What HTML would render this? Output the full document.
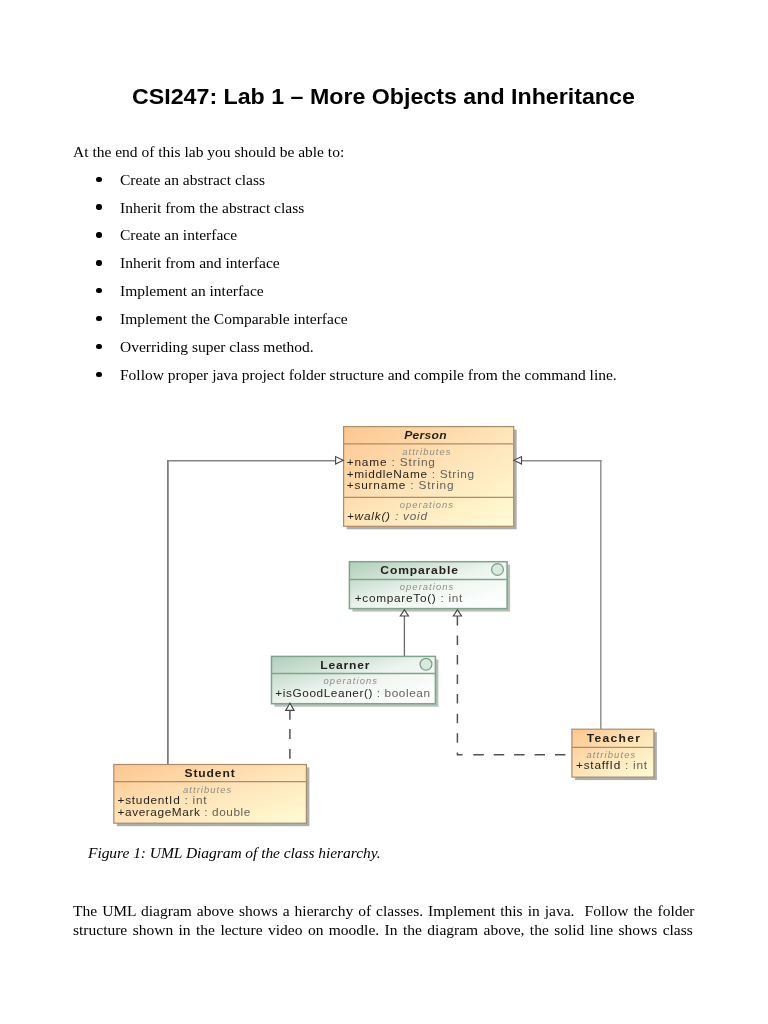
<!DOCTYPE html>
<html><head><meta charset="utf-8">
<style>
html,body{margin:0;padding:0;background:#fff;}
body{width:768px;height:1024px;position:relative;overflow:hidden;font-family:"Liberation Serif",serif;color:#000;}
.t{position:absolute;white-space:nowrap;line-height:1;will-change:transform;}
h1.t{font-family:"Liberation Sans",sans-serif;font-weight:bold;font-size:22px;margin:0;left:132.3px;top:85.5px;transform:scaleX(1.0545);transform-origin:0 0;}
.p{font-size:15.5px;}
.b{font-size:15.5px;left:119.6px;}
.dot{position:absolute;left:96.2px;width:5.4px;height:5.4px;border-radius:50%;background:#000;}
.j{position:absolute;left:73px;width:621.5px;font-size:15.5px;line-height:1;text-align:justify;text-align-last:justify;white-space:nowrap;will-change:transform;}
svg{position:absolute;left:0;top:0;will-change:transform;}
svg text{font-family:"Liberation Sans",sans-serif;font-size:9.2px;}
svg text.h{font-weight:bold;font-size:10.5px;fill:#221f1c;}
svg text.s{font-style:italic;font-size:8.2px;fill:#918d86;}
svg text.a{font-size:10.3px;}
</style></head><body>
<h1 class="t" id="ttl">CSI247: Lab 1 – More Objects and Inheritance</h1>
<div class="t p" id="l0" style="left:73px;top:143.72px;">At the end of this lab you should be able to:</div>
<div class="dot" style="top:176.55px"></div><div class="t b" id="b0" style="top:171.72px;">Create an abstract class</div>
<div class="dot" style="top:204.40px"></div><div class="t b" id="b1" style="top:199.57px;">Inherit from the abstract class</div>
<div class="dot" style="top:232.25px"></div><div class="t b" id="b2" style="top:227.42px;">Create an interface</div>
<div class="dot" style="top:260.15px"></div><div class="t b" id="b3" style="top:255.32px;">Inherit from and interface</div>
<div class="dot" style="top:288.05px"></div><div class="t b" id="b4" style="top:283.22px;">Implement an interface</div>
<div class="dot" style="top:315.85px"></div><div class="t b" id="b5" style="top:311.02px;">Implement the Comparable interface</div>
<div class="dot" style="top:343.75px"></div><div class="t b" id="b6" style="top:338.92px;">Overriding super class method.</div>
<div class="dot" style="top:371.65px"></div><div class="t b" id="b7" style="top:366.82px;">Follow proper java project folder structure and compile from the command line.</div>
<svg width="768" height="1024" viewBox="0 0 768 1024">
<defs>
<linearGradient id="og" x1="0" y1="0" x2="1" y2="1"><stop offset="0" stop-color="#fdc68f"/><stop offset="0.5" stop-color="#fee4b8"/><stop offset="0.9" stop-color="#fff7cf"/><stop offset="1" stop-color="#fffad3"/></linearGradient>
<linearGradient id="gg" x1="0" y1="0" x2="1" y2="1"><stop offset="0" stop-color="#b0cfb9"/><stop offset="0.3" stop-color="#d3e4d8"/><stop offset="0.5" stop-color="#ecf4ee"/><stop offset="0.8" stop-color="#fafdfb"/><stop offset="1" stop-color="#ffffff"/></linearGradient>
</defs>
<g fill="none" stroke-width="1.5">
<path d="M167.9 764.5 V460.0" stroke="#646464"/>
<path d="M167.2 460.75 H335.5" stroke="#858585" stroke-width="1.6"/>
<path d="M600.8 729.2 V460.0" stroke="#8a8a8a" stroke-width="1.4"/>
<path d="M601.5 460.75 H521.5" stroke="#8c8c8c" stroke-width="1.6"/>
<path d="M404.4 656.4 V616.0" stroke="#6a6a6a" stroke-width="1.3"/>
</g>
<g fill="none" stroke="#505256" stroke-width="1.5">
<path d="M289.9 758.75 V748.9 M289.9 739 V729 M289.9 719.7 V710.3"/>
<path d="M457.4 616.0 V625.4 M457.4 635.4 V644.9 M457.4 655.0 V664.5 M457.4 674.6 V684.1 M457.4 694.1 V703.6 M457.4 713.7 V723.2 M457.4 733.3 V742.8 M457.4 752.6 V754.7 H462.6 M473.3 754.7 H483.8 M493.7 754.7 H504.2 M514.1 754.7 H524.6 M534.6 754.7 H545.0 M555.0 754.7 H565.4"/>
</g>
<rect x="346.6" y="429.6" width="170.10000000000002" height="99.69999999999993" fill="#adaeae"/>
<rect x="343.6" y="426.6" width="170.10000000000002" height="99.69999999999993" fill="url(#og)" stroke="#ab8d6c" stroke-width="1.2"/>
<path d="M343.6 443.8 H513.7" stroke="#ab8d6c" stroke-width="1.2" fill="none"/>
<path d="M343.6 497.4 H513.7" stroke="#ab8d6c" stroke-width="1.2" fill="none"/>
<text transform="translate(404.2,438.8) scale(1.15,1)" textLength="36.87" lengthAdjust="spacing" class="h" font-style="italic">Person</text>
<text transform="translate(402.2,454.7) scale(1.15,1)" textLength="42.00" lengthAdjust="spacing" class="s" >attributes</text>
<text transform="translate(346.70,466.00) scale(1.15,1)" textLength="76.70" lengthAdjust="spacing" class="a"><tspan fill="#241f1c">+name</tspan><tspan fill="#65605a"> : String</tspan></text>
<text transform="translate(346.70,477.70) scale(1.15,1)" textLength="110.78" lengthAdjust="spacing" class="a"><tspan fill="#241f1c">+middleName</tspan><tspan fill="#65605a"> : String</tspan></text>
<text transform="translate(346.70,489.10) scale(1.15,1)" textLength="92.96" lengthAdjust="spacing" class="a"><tspan fill="#241f1c">+surname</tspan><tspan fill="#65605a"> : String</tspan></text>
<text transform="translate(399.8,507.8) scale(1.15,1)" textLength="46.35" lengthAdjust="spacing" class="s" >operations</text>
<text transform="translate(346.90,519.90) scale(1.15,1)" textLength="69.74" lengthAdjust="spacing" class="a" font-style="italic"><tspan fill="#241f1c">+walk()</tspan><tspan fill="#65605a"> : void</tspan></text>
<rect x="352.4" y="564.7" width="157.70000000000005" height="46.89999999999998" fill="#b6c0b9"/>
<rect x="349.4" y="561.7" width="157.70000000000005" height="46.89999999999998" fill="url(#gg)" stroke="#7fa38c" stroke-width="1.5"/>
<path d="M349.4 579.4 H507.1" stroke="#7fa38c" stroke-width="1.5" fill="none"/>
<circle cx="497.5" cy="569.5" r="5.9" fill="#d7eadb" stroke="#7d9f8a" stroke-width="1.25"/>
<text transform="translate(380.3,573.9) scale(1.15,1)" textLength="67.48" lengthAdjust="spacing" class="h" >Comparable</text>
<text transform="translate(399.8,590.1) scale(1.15,1)" textLength="46.43" lengthAdjust="spacing" class="s" >operations</text>
<text transform="translate(354.70,601.90) scale(1.15,1)" textLength="93.65" lengthAdjust="spacing" class="a"><tspan fill="#241f1c">+compareTo()</tspan><tspan fill="#65605a"> : int</tspan></text>
<rect x="274.5" y="659.4" width="163.89999999999998" height="47.30000000000007" fill="#b6c0b9"/>
<rect x="271.5" y="656.4" width="163.89999999999998" height="47.30000000000007" fill="url(#gg)" stroke="#7fa38c" stroke-width="1.5"/>
<path d="M271.5 673.4 H435.4" stroke="#7fa38c" stroke-width="1.5" fill="none"/>
<circle cx="426.0" cy="664.2" r="5.9" fill="#d7eadb" stroke="#7d9f8a" stroke-width="1.25"/>
<text transform="translate(320.2,668.8) scale(1.15,1)" textLength="42.87" lengthAdjust="spacing" class="h" >Learner</text>
<text transform="translate(323.6,684.0) scale(1.15,1)" textLength="46.35" lengthAdjust="spacing" class="s" >operations</text>
<text transform="translate(275.30,696.70) scale(1.15,1)" textLength="134.61" lengthAdjust="spacing" class="a"><tspan fill="#241f1c">+isGoodLeaner()</tspan><tspan fill="#65605a"> : boolean</tspan></text>
<rect x="116.8" y="767.5" width="192.59999999999997" height="58.700000000000045" fill="#adaeae"/>
<rect x="113.8" y="764.5" width="192.59999999999997" height="58.700000000000045" fill="url(#og)" stroke="#ab8d6c" stroke-width="1.2"/>
<path d="M113.8 781.7 H306.4" stroke="#ab8d6c" stroke-width="1.2" fill="none"/>
<text transform="translate(184.5,776.8) scale(1.15,1)" textLength="43.65" lengthAdjust="spacing" class="h" >Student</text>
<text transform="translate(183.1,792.5) scale(1.15,1)" textLength="41.83" lengthAdjust="spacing" class="s" >attributes</text>
<text transform="translate(117.50,804.00) scale(1.15,1)" textLength="77.39" lengthAdjust="spacing" class="a"><tspan fill="#241f1c">+studentId</tspan><tspan fill="#65605a"> : int</tspan></text>
<text transform="translate(117.50,815.80) scale(1.15,1)" textLength="115.57" lengthAdjust="spacing" class="a"><tspan fill="#241f1c">+averageMark</tspan><tspan fill="#65605a"> : double</tspan></text>
<rect x="574.9" y="732.2" width="82.0" height="47.89999999999998" fill="#adaeae"/>
<rect x="571.9" y="729.2" width="82.0" height="47.89999999999998" fill="url(#og)" stroke="#ab8d6c" stroke-width="1.2"/>
<path d="M571.9 747.4 H653.9" stroke="#ab8d6c" stroke-width="1.2" fill="none"/>
<text transform="translate(586.8,742.3) scale(1.15,1)" textLength="46.17" lengthAdjust="spacing" class="h" >Teacher</text>
<text transform="translate(586.5,758.3) scale(1.15,1)" textLength="42.35" lengthAdjust="spacing" class="s" >attributes</text>
<text transform="translate(576.00,769.20) scale(1.15,1)" textLength="61.83" lengthAdjust="spacing" class="a"><tspan fill="#241f1c">+staffId</tspan><tspan fill="#65605a"> : int</tspan></text>
<g fill="#fff" stroke="#45474a" stroke-width="1.15" stroke-linejoin="miter">
<path d="M343.2 460.3 L335.6 456.6 V464.0 Z"/>
<path d="M514.0 460.3 L521.5 456.6 V464.0 Z"/>
<path d="M404.4 609.9 L400.3 616.0 H408.5 Z"/>
<path d="M457.4 609.9 L453.3 616.0 H461.5 Z"/>
<path d="M289.9 703.2 L285.7 710.4 H294.1 Z"/>
</g>
</svg>
<div class="t" id="cap" style="left:87.5px;top:844.62px;font-size:15.5px;font-style:italic;letter-spacing:-0.05px;">Figure 1: UML Diagram of the class hierarchy.</div>
<div class="j" style="top:902.62px;">The UML diagram above shows a hierarchy of classes. Implement this in java.&nbsp; Follow the folder</div>
<div class="j" style="top:921.82px;width:619.8px;">structure shown in the lecture video on moodle. In the diagram above, the solid line shows class</div>
</body></html>
